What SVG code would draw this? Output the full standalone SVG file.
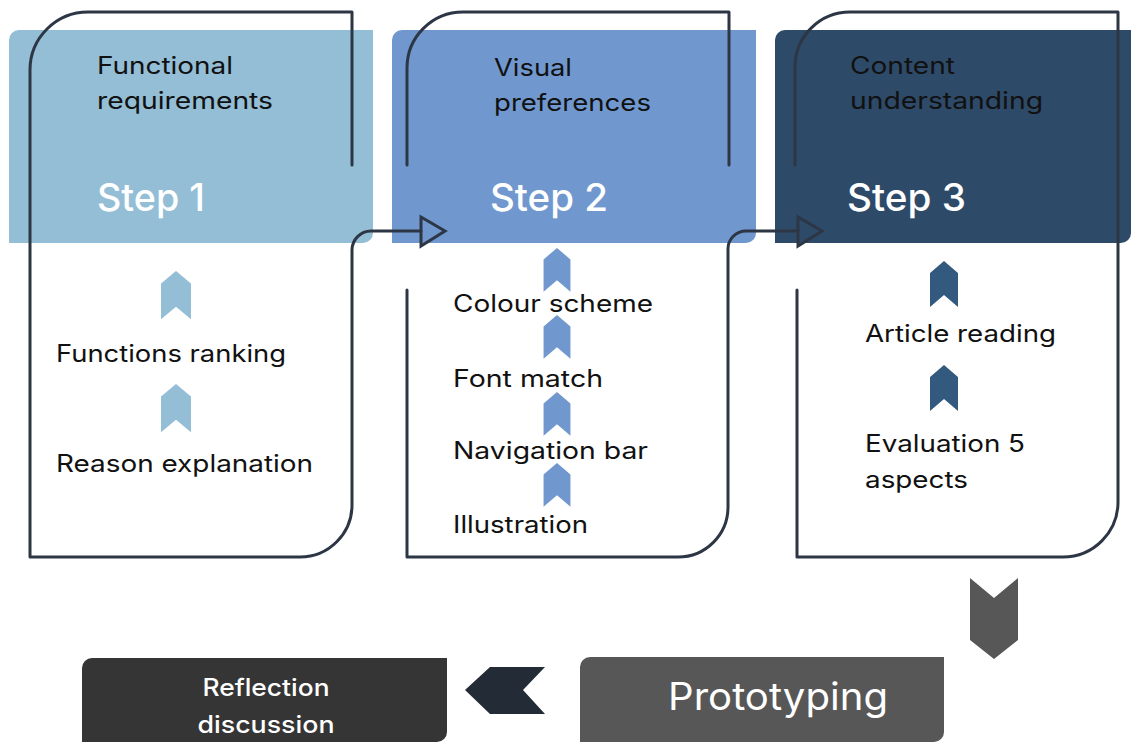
<svg xmlns="http://www.w3.org/2000/svg" width="1131" height="742" viewBox="0 0 1131 742">
  <style>
    text { font-family: Inter, "Noto Sans", "Liberation Sans", sans-serif; }
    .lbl { font-size: 24px; fill: #111111; }
    .step { font-size: 38px; font-weight: 500; fill: #ffffff; }
    .frame { fill: none; stroke: #2D3645; stroke-width: 3; stroke-linecap: round; stroke-linejoin: round; }
    .head { fill: none; stroke: #2D3645; stroke-width: 3; stroke-linejoin: miter; }
    .white { fill: #ffffff; }
  </style>
  <defs>
    <!-- upward chevron, 28 wide, centred on x=0, top at y=0 -->
    <path id="chev-up" d="M0,0 L14,12 L14,46 L0,34 L-14,46 L-14,12 Z"/>
  </defs>
  <rect width="1131" height="742" fill="#ffffff"/>

  <!-- step header panels -->
  <g id="step1">
    <path d="M19,30 H373 V233 A10,10 0 0 1 363,243 H9 V40 A10,10 0 0 1 19,30 Z" fill="#93BED6"/>
    <text class="lbl" x="97" y="74" textLength="136" lengthAdjust="spacingAndGlyphs">Functional</text>
    <text class="lbl" x="97" y="109" textLength="176" lengthAdjust="spacingAndGlyphs">requirements</text>
    <text class="step" x="97" y="211" textLength="108" lengthAdjust="spacingAndGlyphs">Step 1</text>
    <text class="lbl" x="56" y="362" textLength="230" lengthAdjust="spacingAndGlyphs">Functions ranking</text>
    <text class="lbl" x="56" y="472" textLength="257" lengthAdjust="spacingAndGlyphs">Reason explanation</text>
  </g>
  <g id="step2">
    <path d="M402,30 H756 V233 A10,10 0 0 1 746,243 H392 V40 A10,10 0 0 1 402,30 Z" fill="#7098CF"/>
    <text class="lbl" x="494" y="76" textLength="78" lengthAdjust="spacingAndGlyphs">Visual</text>
    <text class="lbl" x="494" y="111" textLength="157" lengthAdjust="spacingAndGlyphs">preferences</text>
    <text class="step" x="490" y="211" textLength="118" lengthAdjust="spacingAndGlyphs">Step 2</text>
    <text class="lbl" x="453" y="312" textLength="200" lengthAdjust="spacingAndGlyphs">Colour scheme</text>
    <text class="lbl" x="453" y="387" textLength="150" lengthAdjust="spacingAndGlyphs">Font match</text>
    <text class="lbl" x="453" y="459" textLength="195" lengthAdjust="spacingAndGlyphs">Navigation bar</text>
    <text class="lbl" x="453" y="533" textLength="135" lengthAdjust="spacingAndGlyphs">Illustration</text>
  </g>
  <g id="step3">
    <path d="M785,30 H1131 V233 A10,10 0 0 1 1121,243 H775 V40 A10,10 0 0 1 785,30 Z" fill="#2E4A69"/>
    <text class="lbl" x="850" y="74" textLength="105" lengthAdjust="spacingAndGlyphs">Content</text>
    <text class="lbl" x="850" y="109" textLength="193" lengthAdjust="spacingAndGlyphs">understanding</text>
    <text class="step" x="847" y="211" textLength="119" lengthAdjust="spacingAndGlyphs">Step 3</text>
    <text class="lbl" x="865" y="342" textLength="191" lengthAdjust="spacingAndGlyphs">Article reading</text>
    <text class="lbl" x="865" y="452" textLength="160" lengthAdjust="spacingAndGlyphs">Evaluation 5</text>
    <text class="lbl" x="865" y="488" textLength="103" lengthAdjust="spacingAndGlyphs">aspects</text>
  </g>

  <g id="prototyping">
    <path d="M590,657 H944 V732 A10,10 0 0 1 934,742 H580 V667 A10,10 0 0 1 590,657 Z" fill="#575757"/>
    <text class="white" x="668" y="710" font-size="38" textLength="220" lengthAdjust="spacingAndGlyphs">Prototyping</text>
  </g>
  <g id="reflection">
    <path d="M92,658 H447 V732 A10,10 0 0 1 437,742 H82 V668 A10,10 0 0 1 92,658 Z" fill="#353535"/>
    <text class="white" x="266" y="696" font-size="24" font-weight="500" text-anchor="middle" textLength="127" lengthAdjust="spacingAndGlyphs">Reflection</text>
    <text class="white" x="266" y="733" font-size="24" font-weight="500" text-anchor="middle" textLength="137" lengthAdjust="spacingAndGlyphs">discussion</text>
  </g>

  <g id="connectors">
    <!-- outline of step 1, running on into the arrow towards step 2 -->
    <path class="frame" d="M352,165 V12 H88 A58,58 0 0 0 30,70 V557 H300 A52,52 0 0 0 352,505 V250 A19,19 0 0 1 371,231 H421"/>
    <path class="head" d="M421,217 L445,231 L421,246 Z"/>
    <!-- upper outline of step 2 -->
    <path class="frame" d="M407,165 V68 A56,56 0 0 1 463,12 H729 V165"/>
    <!-- lower outline of step 2, running on into the arrow towards step 3 -->
    <path class="frame" d="M407,290 V557 H678 A50,50 0 0 0 728,507 V249 A18,18 0 0 1 746,231 H798"/>
    <path class="head" d="M798,217 L822,231 L798,246 Z"/>
    <!-- outline of step 3 -->
    <path class="frame" d="M795,165 V67 A55,55 0 0 1 850,12 H1118 V502 A55,55 0 0 1 1063,557 H797 V290"/>

    <!-- chevrons inside each step -->
    <g fill="#93BED6">
      <use href="#chev-up" transform="translate(176,271) scale(1.07,1.05)"/>
      <use href="#chev-up" transform="translate(176,384) scale(1.07,1.05)"/>
    </g>
    <g fill="#7098CF">
      <use href="#chev-up" transform="translate(557,248) scale(0.96,0.95)"/>
      <use href="#chev-up" transform="translate(557,315) scale(0.96,0.95)"/>
      <use href="#chev-up" transform="translate(557,392) scale(0.96,0.95)"/>
      <use href="#chev-up" transform="translate(557,463) scale(0.96,0.95)"/>
    </g>
    <g fill="#33597E">
      <use href="#chev-up" transform="translate(944,261)"/>
      <use href="#chev-up" transform="translate(944,365)"/>
    </g>

    <!-- step 3 down to prototyping -->
    <path d="M970,578 L994,598 L1018,578 L1018,640 L994,659 L970,640 Z" fill="#575757"/>
    <!-- prototyping back to reflection -->
    <path d="M465,690 L490,667 L545,667 L523,690 L545,714 L490,714 Z" fill="#232B36"/>
  </g>
</svg>
